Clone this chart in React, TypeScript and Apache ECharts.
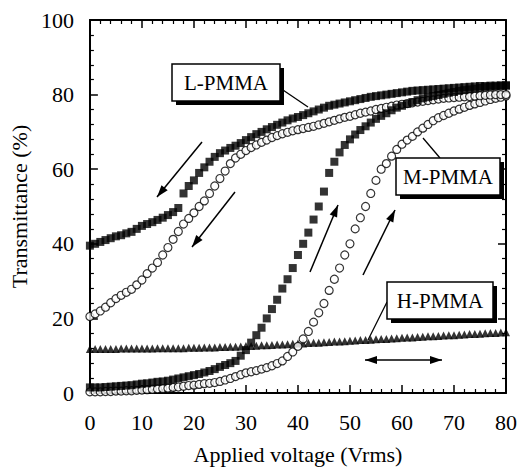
import React, { useEffect, useRef } from 'react';
import * as echarts from 'echarts';

// Applied voltage (Vrms), step 1 V
const voltage = [
  0, 1, 2, 3, 4, 5, 6, 7, 8, 9,
  10, 11, 12, 13, 14, 15, 16, 17, 18, 19,
  20, 21, 22, 23, 24, 25, 26, 27, 28, 29,
  30, 31, 32, 33, 34, 35, 36, 37, 38, 39,
  40, 41, 42, 43, 44, 45, 46, 47, 48, 49,
  50, 51, 52, 53, 54, 55, 56, 57, 58, 59,
  60, 61, 62, 63, 64, 65, 66, 67, 68, 69,
  70, 71, 72, 73, 74, 75, 76, 77, 78, 79,
  80,
];

// L-PMMA, decreasing voltage (filled squares, upper branch)
const lPmmaDown = [
  39.5, 40, 40.5, 41, 41.5, 42, 42.3, 42.8, 43.2, 44,
  44.8, 45.3, 45.8, 46.4, 47, 47.7, 48.5, 49.6, 53.5, 55.5,
  57, 59, 60.5, 62, 63.3, 64.3, 65, 65.7, 66.3, 67,
  67.8, 68.6, 69.4, 70, 70.7, 71.3, 71.9, 72.5, 73.1, 73.6,
  74, 74.5, 75, 75.5, 76, 76.5, 77, 77.3, 77.6, 77.9,
  78.2, 78.5, 78.8, 79.1, 79.4, 79.6, 79.8, 80, 80.2, 80.4,
  80.6, 80.8, 81, 81.1, 81.2, 81.3, 81.4, 81.5, 81.6, 81.7,
  81.8, 81.9, 82, 82.1, 82.2, 82.3, 82.3, 82.4, 82.4, 82.5,
  82.5,
];

// L-PMMA, increasing voltage (filled squares, lower branch)
const lPmmaUp = [
  1.5, 1.5, 1.5, 1.6, 1.7, 1.8, 1.9, 2, 2.1, 2.3,
  2.5, 2.6, 2.8, 3, 3.1, 3.3, 3.6, 3.9, 4.2, 4.5,
  4.8, 5.1, 5.5, 5.9, 6.4, 7, 7.5, 8, 8.6, 10,
  11.5, 13.5, 15.5, 17.5, 20, 22.5, 25, 28, 30.5, 33.5,
  37, 40, 43, 46.5, 50, 54, 59, 62, 64.5, 66.5,
  68, 69.3, 70.5, 71.5, 72.5, 73.5, 74.3, 75, 75.8, 76.5,
  77, 77.5, 78, 78.5, 79, 79.3, 79.6, 79.9, 80.2, 80.5,
  80.7, 81, 81.2, 81.4, 81.6, 81.8, 82, 82.1, 82.2, 82.3,
  82.4,
];

// M-PMMA, decreasing voltage (open circles, upper branch)
const mPmmaDown = [
  20.5, 21.2, 22, 23, 24.2, 25.3, 26.2, 27, 27.8, 29,
  30.3, 32, 33.5, 35, 37, 39, 41.2, 43.3, 45.3, 46.8,
  48.3, 50, 51.5, 53.5, 55.5, 57.5, 59.5, 61.5, 63, 64,
  65, 65.8, 66.5, 67.2, 67.8, 68.5, 69, 69.5, 69.9, 70.3,
  70.6, 70.9, 71.2, 71.5, 71.9, 72.3, 72.7, 73.1, 73.5, 73.9,
  74.2, 74.6, 75, 75.3, 75.6, 76, 76.3, 76.6, 76.9, 77.2,
  77.4, 77.6, 77.8, 78, 78.2, 78.4, 78.6, 78.8, 79, 79.1,
  79.2, 79.3, 79.4, 79.5, 79.6, 79.7, 79.8, 79.9, 80, 80,
  80,
];

// M-PMMA, increasing voltage (open circles, lower branch)
const mPmmaUp = [
  0.3, 0.3, 0.3, 0.4, 0.4, 0.5, 0.5, 0.6, 0.6, 0.7,
  0.8, 0.9, 1, 1.1, 1.2, 1.3, 1.5, 1.6, 1.8, 2,
  2.1, 2.3, 2.5, 2.6, 2.8, 3.1, 3.5, 3.9, 4.4, 4.9,
  5.4, 5.7, 6, 6.4, 6.8, 7.3, 7.9, 8.6, 9.8, 11,
  12.5, 14.5, 16.5, 19, 21.5, 24, 27.5, 30.5, 33.5, 37,
  40, 44, 47, 50, 53.5, 57, 60, 61.5, 63.5, 65.3,
  66.7, 67.8, 68.8, 70, 71, 72, 73, 73.8, 74.4, 75,
  75.6, 76.1, 76.6, 77.1, 77.5, 77.9, 78.3, 78.7, 79, 79.3,
  79.6,
];

// H-PMMA (filled triangles)
const hPmma = [
  11.8, 11.8, 11.8, 11.8, 11.8, 11.8, 11.9, 11.9, 11.9, 11.9,
  11.9, 11.9, 11.9, 12, 12, 12, 12, 12, 12, 12.1,
  12.1, 12.1, 12.2, 12.2, 12.2, 12.3, 12.3, 12.4, 12.4, 12.5,
  12.6, 12.6, 12.7, 12.8, 12.8, 12.9, 13, 13, 13.1, 13.2,
  13.3, 13.3, 13.4, 13.5, 13.5, 13.6, 13.7, 13.8, 13.8, 13.9,
  14, 14.1, 14.2, 14.2, 14.3, 14.4, 14.5, 14.5, 14.6, 14.7,
  14.8, 14.9, 14.9, 15, 15.1, 15.2, 15.2, 15.3, 15.4, 15.5,
  15.5, 15.6, 15.7, 15.8, 15.8, 15.9, 16, 16.1, 16.1, 16.2,
  16.3,
];

const xTicks = { min: 0, max: 80, interval: 10 };
const yTicks = { min: 0, max: 100, interval: 20 };
const labels = ['L-PMMA', 'M-PMMA', 'H-PMMA'];
const xTitle = 'Applied voltage (Vrms)';
const yTitle = 'Transmittance (%)';

const FONT = '"Liberation Serif", "Times New Roman", serif';

const pairs = (ys: number[]) => voltage.map((v, i) => [v, ys[i]]);

function arrowHead(x1: number, y1: number, x2: number, y2: number, len = 12, half = 4) {
  const dx = x2 - x1, dy = y2 - y1;
  const L = Math.hypot(dx, dy);
  const ux = dx / L, uy = dy / L;
  const bx = x2 - ux * len, by = y2 - uy * len;
  return {
    type: 'polygon',
    z: 100,
    shape: { points: [[x2, y2], [bx - uy * half, by + ux * half], [bx + uy * half, by - ux * half]] },
    style: { fill: '#000' },
  };
}

function arrow(x1: number, y1: number, x2: number, y2: number, both = false) {
  const els: any[] = [
    { type: 'line', z: 100, shape: { x1, y1, x2, y2 }, style: { stroke: '#000', lineWidth: 1.5 } },
    arrowHead(x1, y1, x2, y2),
  ];
  if (both) els.push(arrowHead(x2, y2, x1, y1));
  return els;
}

function box(x: number, y: number, w: number, h: number, text: string) {
  return [
    { type: 'rect', z: 100, shape: { x: x + 4, y: y + 4, width: w, height: h }, style: { fill: '#000' } },
    { type: 'rect', z: 101, shape: { x, y, width: w, height: h }, style: { fill: '#fff', stroke: '#000', lineWidth: 1.5 } },
    {
      type: 'text', z: 102, x: x + w / 2, y: y + h / 2,
      style: {
        text, fill: '#000', fontSize: 21, fontFamily: FONT,
        align: 'center', verticalAlign: 'middle',
        textAlign: 'center', textVerticalAlign: 'middle',
      },
    },
  ];
}

function leader(x1: number, y1: number, x2: number, y2: number) {
  return { type: 'line', z: 99, shape: { x1, y1, x2, y2 }, style: { stroke: '#000', lineWidth: 1.3 } };
}

export default function App() {
  const ref = useRef<HTMLDivElement>(null);
  useEffect(() => {
    if (!ref.current) return;
    const chart = echarts.init(ref.current, undefined, { renderer: 'svg' });
    const axisCommon = {
      splitLine: { show: false },
      axisLine: { show: true, onZero: false, lineStyle: { color: '#000', width: 2 } },
      axisTick: { show: true, inside: true, length: 8, lineStyle: { color: '#000', width: 1.5 } },
      minorTick: { show: true, splitNumber: 5, length: 4, lineStyle: { color: '#000', width: 1.2 } },
    };
    const xAxisBase = { type: 'value', ...xTicks, ...axisCommon };
    const yAxisBase = { type: 'value', ...yTicks, ...axisCommon };
    const labelStyle = { color: '#000', fontSize: 22, fontFamily: FONT };
    const titleStyle = { color: '#000', fontSize: 22, fontFamily: FONT };

    const graphic: any[] = [
      ...box(172, 64, 108, 37, labels[0]),
      leader(280, 88, 308, 107),
      ...box(396, 158, 104, 37, labels[1]),
      leader(440, 158, 423, 138),
      ...box(387, 282, 106, 37, labels[2]),
      leader(387, 302, 368, 340),
      ...arrow(202, 142, 157, 197),
      ...arrow(235, 192, 192, 247),
      ...arrow(310, 272, 338, 205),
      ...arrow(363, 275, 395, 210),
      ...arrow(365, 360, 442, 360, true),
    ];

    chart.setOption({
      animation: false,
      backgroundColor: '#fff',
      grid: { left: 89, right: 18, top: 20, bottom: 80, containLabel: false },
      xAxis: [
        {
          ...xAxisBase, position: 'bottom',
          axisLabel: { ...labelStyle, margin: 18 },
          name: xTitle, nameLocation: 'middle', nameGap: 50, nameTextStyle: titleStyle,
        },
        { ...xAxisBase, position: 'top', axisLabel: { show: false } },
      ],
      yAxis: [
        {
          ...yAxisBase, position: 'left',
          axisLabel: { ...labelStyle, margin: 16 },
          name: yTitle, nameLocation: 'middle', nameGap: 56, nameTextStyle: titleStyle,
        },
        { ...yAxisBase, position: 'right', axisLabel: { show: false } },
      ],
      series: [
        {
          name: 'H-PMMA', type: 'scatter', symbol: 'triangle', symbolSize: 8,
          itemStyle: { color: '#000' }, data: pairs(hPmma), clip: false,
        },
        {
          name: 'M-PMMA up', type: 'scatter', symbol: 'circle', symbolSize: 8,
          itemStyle: { color: '#fff', borderColor: '#000', borderWidth: 1.2 }, data: pairs(mPmmaUp), clip: false,
        },
        {
          name: 'M-PMMA down', type: 'scatter', symbol: 'circle', symbolSize: 8,
          itemStyle: { color: '#fff', borderColor: '#000', borderWidth: 1.2 }, data: pairs(mPmmaDown), clip: false,
        },
        {
          name: 'L-PMMA up', type: 'scatter', symbol: 'rect', symbolSize: 8,
          itemStyle: { color: '#000' }, data: pairs(lPmmaUp), clip: false,
        },
        {
          name: 'L-PMMA down', type: 'scatter', symbol: 'rect', symbolSize: 8,
          itemStyle: { color: '#000' }, data: pairs(lPmmaDown), clip: false,
        },
      ],
      graphic,
    });
    return () => chart.dispose();
  }, []);
  return <div ref={ref} style={{ position: 'absolute', left: 0, top: 0, width: 524, height: 473 }} />;
}
